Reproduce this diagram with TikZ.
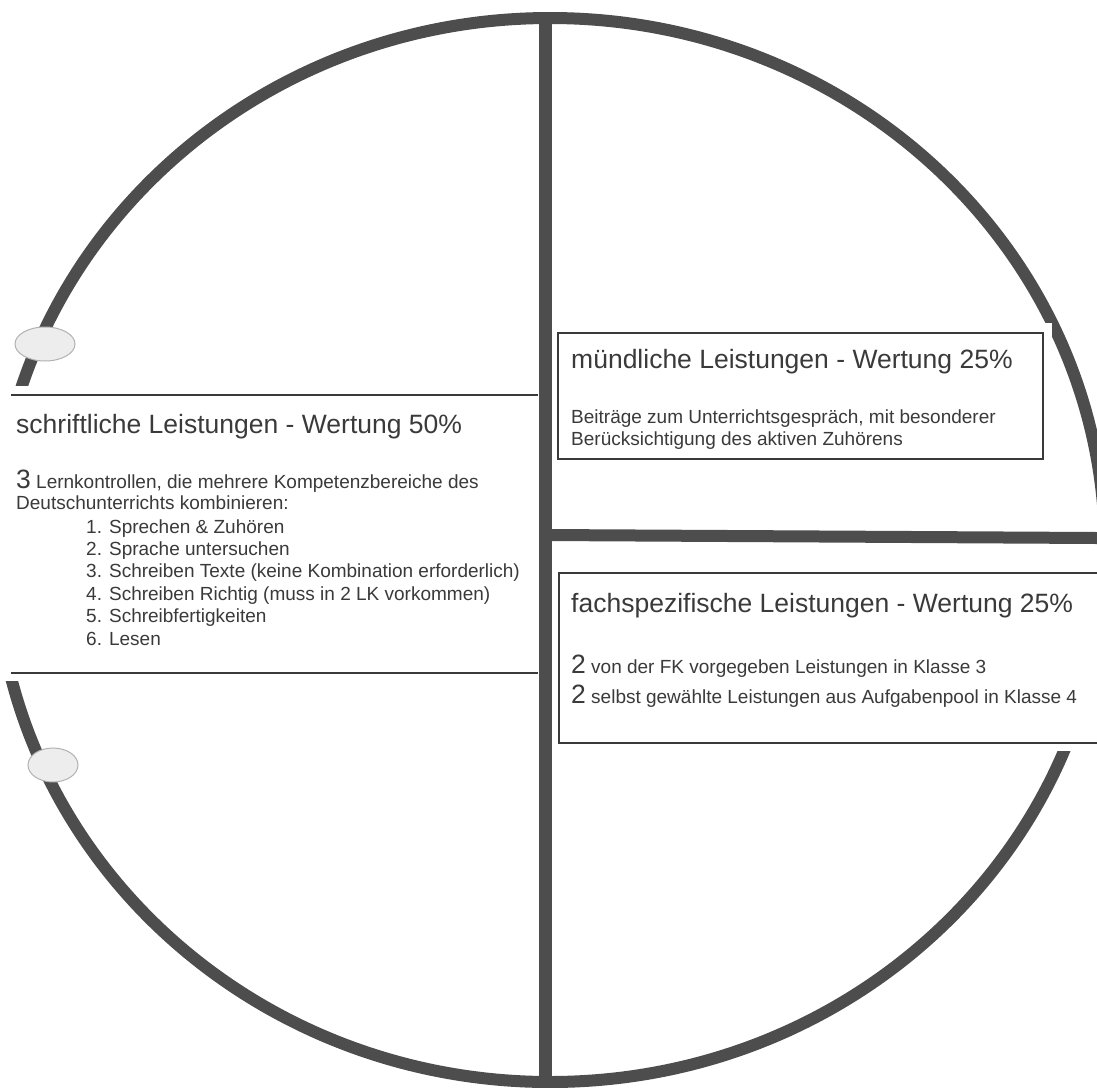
\documentclass[tikz,border=0pt]{standalone}
\usepackage{fontspec}
\setmainfont{Liberation Sans}
\definecolor{ringgrau}{HTML}{4D4D4D}
\definecolor{schrift}{HTML}{3A3A3A}
\newcommand{\grossziffer}[1]{{\fontsize{26.5}{30}\selectfont #1}}
\tikzset{
    ring/.style={line width=12pt, draw=ringgrau},
    trenner/.style={line width=13pt, draw=ringgrau},
    rahmen/.style={line width=1.8pt, draw=schrift},
    kopf/.style={anchor=base west, inner sep=0pt, text=schrift, font=\fontsize{26.5}{30}\selectfont},
    zeile/.style={anchor=base west, inner sep=0pt, text=schrift, font=\fontsize{19}{22}\selectfont},
    klecks/.style={fill=black!7, draw=black!30, line width=1pt}
}
\begin{document}
\begin{tikzpicture}[x=1pt, y=-1pt]
    \useasboundingbox (0,0) rectangle (1097,1087);
    \clip (0,0) rectangle (1097,1087);
    \fill[white] (0,0) rectangle (1097,1087);
    % Kreis mit Trennlinien
    \draw[ring] (550,550) ellipse [x radius=555, y radius=532];
    \coordinate (oben) at (545,14);
    \coordinate (unten) at (545,1086);
    \coordinate (mitte) at (545,535);
    \coordinate (rechts) at (1097,538);
    \draw[trenner] (oben) -- (unten);
    \draw[trenner, line width=12pt] (mitte) -- (rechts);

    % schriftliche Leistungen
    \fill[white] (0,386) rectangle (538,681);
    \draw[rahmen] (11,395) -- (538,395);
    \draw[rahmen] (11,673) -- (538,673);
    \node[kopf] (schriftlich) at (16,433) {schriftliche Leistungen - Wertung 50\%};
    \node[zeile] (lk) at (16,488) {\grossziffer{3} Lernkontrollen, die mehrere Kompetenzbereiche des};
    \node[zeile] (du) at (16,509) {Deutschunterrichts kombinieren:};
    \foreach \t [count=\i] in {Sprechen \& Zuhören, Sprache untersuchen,
        Schreiben Texte (keine Kombination erforderlich),
        Schreiben Richtig (muss in 2 LK vorkommen), Schreibfertigkeiten, Lesen} {
        \node[zeile] (bereich\i) at (86,{533+22.4*(\i-1)}) {\i. \t};
    }

    % mündliche Leistungen
    \fill[white] (552,323) rectangle (1052,466);
    \draw[rahmen] (558,333) rectangle (1043,459);
    \node[kopf] (muendlich) at (571,368) {mündliche Leistungen - Wertung 25\%};
    \node[zeile] (beitrag) at (571,423) {Beiträge zum Unterrichtsgespräch, mit besonderer};
    \node[zeile] (zuhoeren) at (571,445) {Berücksichtigung des aktiven Zuhörens};

    % fachspezifische Leistungen
    \fill[white] (552,568) rectangle (1097,751);
    \draw[rahmen] (1100,573) -- (559,573) -- (559,743) -- (1100,743);
    \node[kopf] (fach) at (571,612) {fachspezifische Leistungen - Wertung 25\%};
    \node[zeile] (fk) at (571,673) {\grossziffer{2} von der FK vorgegeben Leistungen in Klasse 3};
    \node[zeile] (pool) at (571,703) {\grossziffer{2} selbst gewählte Leistungen aus Aufgabenpool in Klasse 4};

    % Klebepunkte
    \draw[klecks] (45,344) ellipse [x radius=30, y radius=17];
    \draw[klecks] (53,765) ellipse [x radius=25, y radius=17];
\end{tikzpicture}
\end{document}
